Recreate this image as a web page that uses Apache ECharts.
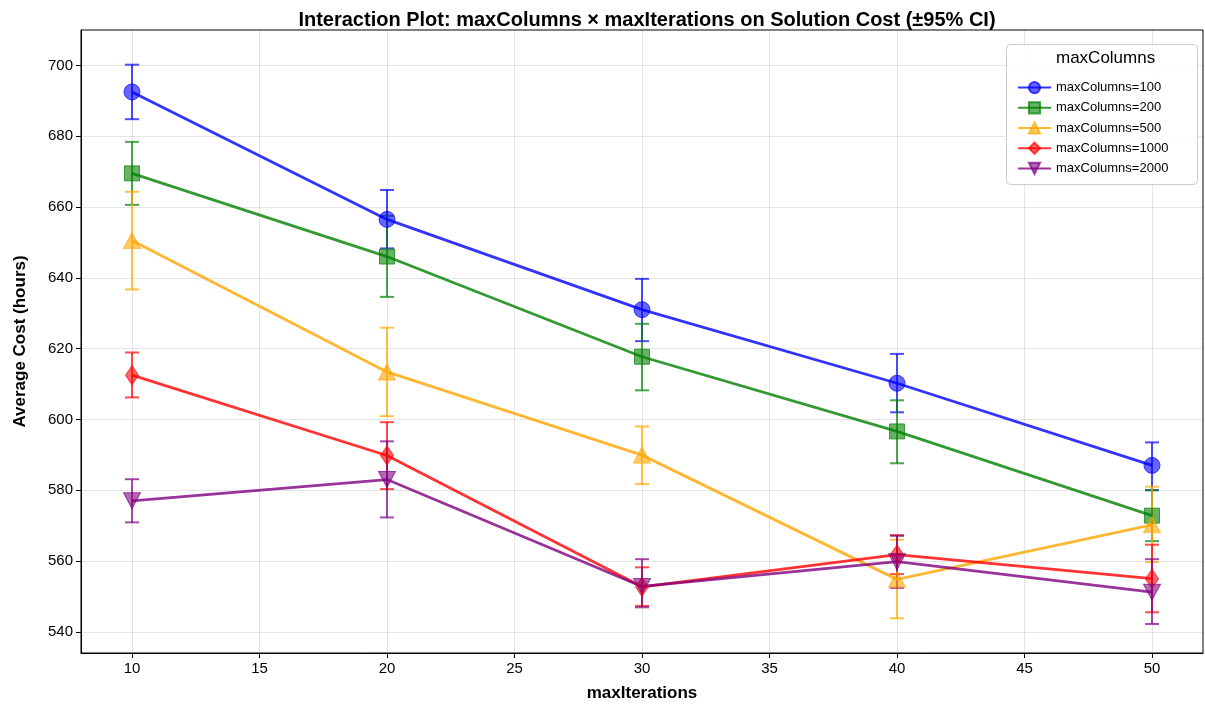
<!DOCTYPE html>
<html><head><meta charset="utf-8">
<script src="https://cdn.jsdelivr.net/npm/echarts@6/dist/echarts.min.js"></script>
<style>html,body{margin:0;padding:0;background:#fff}#c{width:1205px;height:707px}</style>
</head><body><div id="c"></div>
<script>
const iterations = [10, 20, 30, 40, 50];
const seriesNames = ['maxColumns=100','maxColumns=200','maxColumns=500','maxColumns=1000','maxColumns=2000'];
const mean100 = [692.5, 656.5, 631.0, 610.2, 587.0];
const low100  = [684.8, 648.3, 622.1, 602.0, 580.0];
const high100 = [700.2, 664.8, 639.7, 618.5, 593.5];
const mean200 = [669.5, 646.0, 617.7, 596.6, 572.8];
const low200  = [660.6, 634.6, 608.2, 587.6, 565.6];
const high200 = [678.4, 657.5, 627.0, 605.4, 580.0];
const mean500 = [650.5, 613.4, 589.9, 554.8, 570.2];
const low500  = [636.7, 600.9, 581.7, 543.8, 559.7];
const high500 = [664.3, 625.9, 598.0, 566.0, 581.0];
const mean1000 = [612.5, 589.8, 552.7, 561.8, 555.0];
const low1000  = [606.2, 580.3, 547.3, 556.3, 545.5];
const high1000 = [618.9, 599.2, 558.2, 567.3, 564.6];
const mean2000 = [577.0, 583.0, 552.8, 559.8, 551.2];
const low2000  = [570.9, 572.3, 546.9, 552.4, 542.2];
const high2000 = [583.1, 593.8, 560.5, 567.1, 560.5];
const yTicks = [540, 560, 580, 600, 620, 640, 660, 680, 700];
const xTicks = [10, 15, 20, 25, 30, 35, 40, 45, 50];

const means = [mean100, mean200, mean500, mean1000, mean2000];
const lows = [low100, low200, low500, low1000, low2000];
const highs = [high100, high200, high500, high1000, high2000];
const colors = ['#0000ff', '#008000', '#ffa500', '#ff0000', '#800080'];
const symbols = ['circle', 'rect', 'triangle', 'path://M5,0 L10,7 L5,14 L0,7 Z', 'path://M0,0 L10,0 L5,10 Z'];
const symSizes = [16, 15, [17, 16], [13, 19], [17, 16]];

function rgba(hex, a) {
  const r = parseInt(hex.slice(1,3),16), g = parseInt(hex.slice(3,5),16), b = parseInt(hex.slice(5,7),16);
  return 'rgba(' + r + ',' + g + ',' + b + ',' + a + ')';
}

const series = [];
seriesNames.forEach((name, i) => {
  const errData = iterations.map((x, k) => [x, lows[i][k], highs[i][k]]);
  series.push({
    type: 'custom',
    name: 'err' + i,
    data: errData,
    z: 2,
    silent: true,
    renderItem: function (params, api) {
      const x = api.value(0);
      const lo = api.coord([x, api.value(1)]);
      const hi = api.coord([x, api.value(2)]);
      const w = 7;
      const st = { stroke: rgba(colors[i], 0.7), lineWidth: 2 };
      return {
        type: 'group',
        children: [
          { type: 'line', shape: { x1: lo[0], y1: lo[1], x2: hi[0], y2: hi[1] }, style: st },
          { type: 'line', shape: { x1: lo[0]-w, y1: lo[1], x2: lo[0]+w, y2: lo[1] }, style: st },
          { type: 'line', shape: { x1: hi[0]-w, y1: hi[1], x2: hi[0]+w, y2: hi[1] }, style: st }
        ]
      };
    }
  });
  series.push({
    type: 'line',
    name: name,
    data: iterations.map((x, k) => [x, means[i][k]]),
    symbol: symbols[i],
    symbolSize: symSizes[i],
    z: 3,
    lineStyle: { color: rgba(colors[i], 0.8), width: 2.8 },
    itemStyle: { color: rgba(colors[i], 0.6), borderColor: rgba(colors[i], 0.7), borderWidth: 1 },
    emphasis: { disabled: true },
    animation: false
  });
});

const chart = echarts.init(document.getElementById('c'), null, { renderer: 'canvas' });
const fam = '"Liberation Sans", Arial, sans-serif';
chart.setOption({
  animation: false,
  textStyle: { fontFamily: fam },
  title: {
    text: 'Interaction Plot: maxColumns × maxIterations on Solution Cost (±95% CI)',
    left: 642, top: 5, textAlign: 'center',
    textStyle: { fontSize: 20, fontWeight: 'bold', color: '#000', fontFamily: fam }
  },
  grid: { left: 81, right: 2, top: 30, bottom: 53, show: true, borderColor: '#000', borderWidth: 1, backgroundColor: 'transparent' },
  xAxis: {
    type: 'value', min: 8, max: 52,
    name: 'maxIterations', nameLocation: 'middle', nameGap: 32,
    nameTextStyle: { fontSize: 17, fontWeight: 'bold', color: '#000', fontFamily: fam },
    axisLine: { show: true, lineStyle: { color: '#000', width: 1 } },
    axisTick: { show: true, length: 5, lineStyle: { color: '#000' }, customValues: xTicks },
    axisLabel: { fontSize: 15, color: '#000', margin: 8, customValues: xTicks, fontFamily: fam },
    splitLine: { show: true, lineStyle: { color: 'rgba(0,0,0,0.1)', width: 1 } }
  },
  yAxis: {
    type: 'value', min: 534, max: 710,
    name: 'Average Cost (hours)', nameLocation: 'middle', nameGap: 52,
    nameTextStyle: { fontSize: 17, fontWeight: 'bold', color: '#000', fontFamily: fam },
    axisLine: { show: true, lineStyle: { color: '#000', width: 1 } },
    axisTick: { show: true, length: 5, lineStyle: { color: '#000' }, customValues: yTicks },
    axisLabel: { fontSize: 15, color: '#000', margin: 8, customValues: yTicks, fontFamily: fam },
    splitLine: { show: true, lineStyle: { color: 'rgba(0,0,0,0.1)', width: 1 } }
  },
  legend: {
    data: seriesNames,
    orient: 'vertical',
    left: 1012, top: 76,
    z: 30,
    itemWidth: 33, itemHeight: 14, itemGap: 7,
    textStyle: { fontSize: 13, color: '#000', fontFamily: fam },
    selectedMode: false
  },
  graphic: [
    { type: 'rect', left: 1006, top: 44, shape: { width: 191, height: 140, r: 4 },
      style: { fill: 'rgba(255,255,255,0.85)', stroke: '#cccccc', lineWidth: 1 }, z: 10 },
    { type: 'text', left: 1056, top: 50, style: { text: 'maxColumns', font: '17px ' + fam, fill: '#000' }, z: 11 }
  ],
  series: series
});
</script></body></html>
